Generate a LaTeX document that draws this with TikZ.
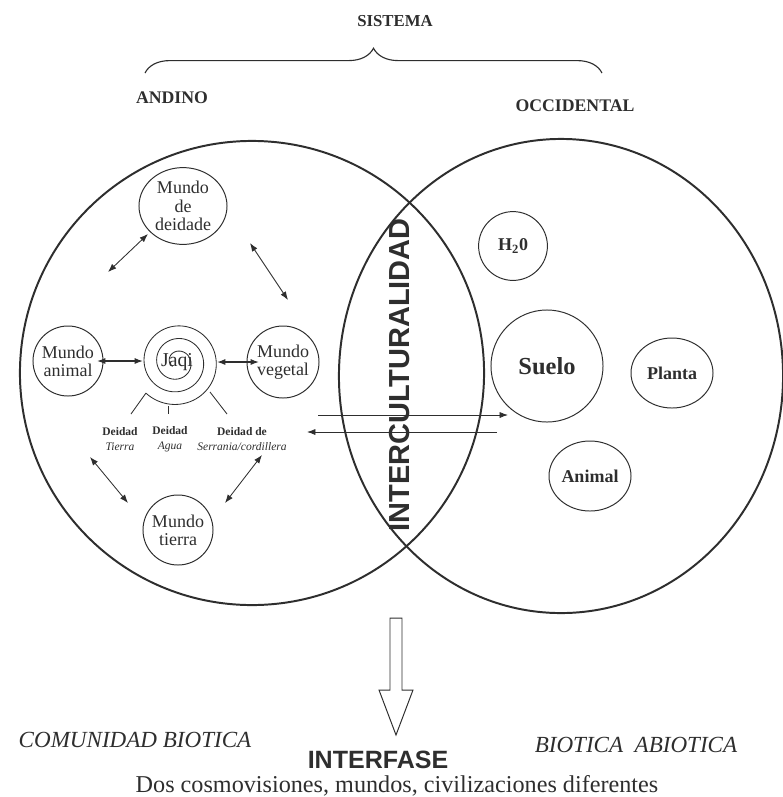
\documentclass[tikz,border=0pt]{standalone}
\usepackage{fontspec}
\setmainfont{Liberation Serif}
\newfontfamily\hsans{Liberation Sans}
\usetikzlibrary{arrows.meta,decorations.pathreplacing,shapes.geometric}
\definecolor{tinta}{gray}{0.18}
\tikzset{
  grande/.style={draw=tinta, line width=1.4pt, inner sep=0pt},
  mundo/.style={circle, draw=tinta, line width=0.7pt, inner sep=0pt, align=center, text=tinta, font=\fontsize{12.8}{13}\selectfont},
  elem/.style={draw=tinta, line width=0.7pt, inner sep=0pt, text=tinta, font=\bfseries\fontsize{12.8}{13}\selectfont},
  deidad/.style={align=center, text=tinta, font=\fontsize{8.2}{10.7}\selectfont},
  titulo/.style={text=tinta, font=\bfseries\fontsize{12.6}{13}\selectfont},
  flecha/.style={tinta, line width=0.6pt, {Latex[length=6pt,width=4.4pt]}-{Latex[length=6pt,width=4.4pt]}},
  raya/.style={tinta, line width=0.6pt},
}
\begin{document}
\begin{tikzpicture}[x=0.025cm,y=-0.025cm]
\useasboundingbox (0,0) rectangle (783,797);
\node[titulo, font=\bfseries\fontsize{11.9}{12}\selectfont] (sistema) at (395,21) {SISTEMA};
\coordinate (llaveA) at (145,73);
\coordinate (llaveB) at (602,73);
\draw[tinta, line width=0.8pt, decorate, decoration={brace, amplitude=0.62cm}] (llaveA) -- (llaveB);
\node[titulo] (andinoT) at (172,98) {ANDINO};
\node[titulo] (occT) at (575,106) {OCCIDENTAL};
\node[grande, circle, minimum size=11.6cm] (andino) at (252,373) {};
\node[grande, ellipse, minimum width=11.1cm, minimum height=11.85cm] (occidente) at (561,376) {};
\node[text=tinta, rotate=90, font=\hsans\bfseries\fontsize{20.6}{21}\selectfont] (inter) at (400,375) {INTERCULTURALIDAD};
\node[mundo, ellipse, minimum width=2.2cm, minimum height=1.92cm] (deidade) at (183,206) {Mundo\\de\\deidade};
\node[mundo, minimum size=1.75cm] (animal) at (68,361) {Mundo\\animal};
\node[mundo, minimum size=1.8cm] (vegetal) at (283,362) {Mundo\\vegetal};
\node[mundo, minimum size=1.75cm] (tierra) at (178,530) {Mundo\\tierra};
\draw[raya] plot[domain=0:1080, samples=240, smooth] ({177+(6+38*(\x/1080))*cos(\x+135)}, {362+(6+38*(\x/1080))*sin(\x+135)});
\node[text=tinta, font=\fontsize{14}{14}\selectfont] (jaqi) at (177,362) {Jaqi};
\node[deidad] (dTierra) at (120,439) {\textbf{Deidad}\\\textit{Tierra}};
\node[deidad] (dAgua) at (170,439) {\textbf{Deidad}\\\textit{Agua}};
\node[deidad] (dSerrania) at (242,439) {\textbf{Deidad de}\\\textit{Serrania/cordillera}};
\coordinate (jt1) at (146,393);
\coordinate (jt2) at (131,414);
\coordinate (ja1) at (168,406);
\coordinate (ja2) at (168,414);
\coordinate (js1) at (210,392);
\coordinate (js2) at (227,414);
\draw[raya] (jt1) -- (jt2);
\draw[raya] (ja1) -- (ja2);
\draw[raya] (js1) -- (js2);
\coordinate (f1a) at (148,234);
\coordinate (f1b) at (108,272);
\coordinate (f2a) at (250,243);
\coordinate (f2b) at (288,300);
\coordinate (f3a) at (97,361);
\coordinate (f3b) at (143,361);
\coordinate (f4a) at (217,362);
\coordinate (f4b) at (259,362);
\coordinate (f5a) at (90,457);
\coordinate (f5b) at (128,503);
\coordinate (f6a) at (262,455);
\coordinate (f6b) at (225,503);
\draw[flecha] (f1a) -- (f1b);
\draw[flecha] (f2a) -- (f2b);
\draw[flecha, line width=1pt] (f3a) -- (f3b);
\draw[flecha, line width=1pt] (f4a) -- (f4b);
\draw[flecha] (f5a) -- (f5b);
\draw[flecha] (f6a) -- (f6b);
\node[elem, circle, minimum size=1.72cm] (agua) at (513,246) {H\textsubscript{2}0};
\node[elem, circle, minimum size=2.8cm, font=\bfseries\fontsize{17.4}{18}\selectfont] (suelo) at (547,366) {Suelo};
\node[elem, ellipse, minimum width=2.05cm, minimum height=1.75cm] (planta) at (672,373) {Planta};
\node[elem, ellipse, minimum width=2.05cm, minimum height=1.75cm] (animalB) at (590,476) {Animal};
\coordinate (h1a) at (318,415);
\coordinate (h1b) at (508,415);
\coordinate (h2a) at (497,432);
\coordinate (h2b) at (307,432);
\draw[raya, -{Latex[length=6pt,width=4.4pt]}] (h1a) -- (h1b);
\draw[raya, -{Latex[length=6pt,width=4.4pt]}] (h2a) -- (h2b);
\draw[tinta, line width=0.7pt, line join=miter] (390,618) -- (402,618) -- (402,690) -- (413,690) -- (396,735) -- (379,690) -- (390,690) -- cycle;
\node[anchor=base, text=tinta, font=\itshape\fontsize{16.4}{17}\selectfont] (comunidad) at (135,747) {COMUNIDAD BIOTICA};
\node[anchor=base, text=tinta, font=\itshape\fontsize{16.4}{17}\selectfont] (biotica) at (636,752) {BIOTICA\ \ ABIOTICA};
\node[anchor=base, text=tinta, font=\hsans\bfseries\fontsize{17.8}{18}\selectfont] (interfase) at (378,768) {INTERFASE};
\node[anchor=base, text=tinta, font=\fontsize{17.2}{18}\selectfont] (dos) at (397,792) {Dos cosmovisiones, mundos, civilizaciones diferentes};
\end{tikzpicture}
\end{document}
